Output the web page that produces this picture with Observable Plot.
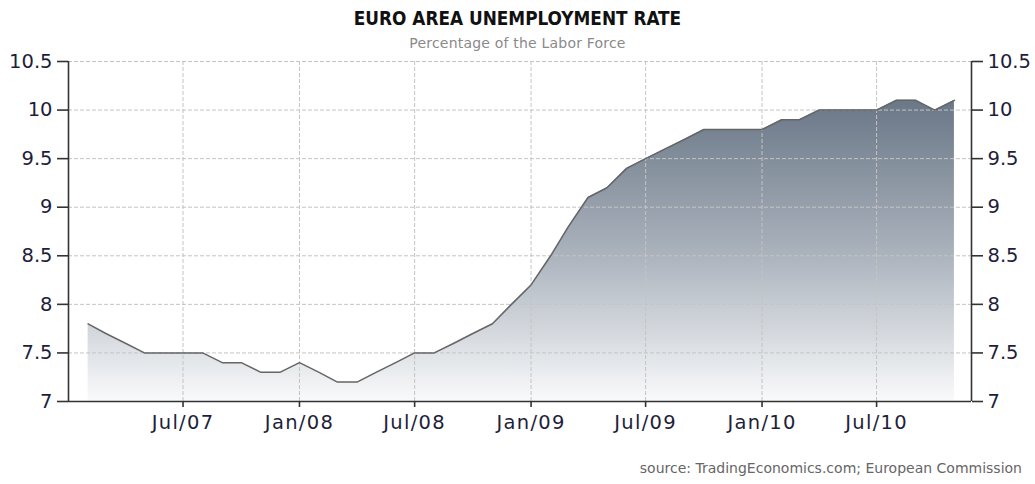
<!DOCTYPE html>
<html><head><meta charset="utf-8">
<script src="https://cdn.jsdelivr.net/npm/d3@7"></script>
<script src="https://cdn.jsdelivr.net/npm/@observablehq/plot@0.6"></script>
<style>
body{margin:0;background:#fff;}
#wrap{position:relative;width:1035px;height:484px;font-family:"DejaVu Sans",sans-serif;}
.t{position:absolute;white-space:nowrap}
#title{left:0;width:1035px;text-align:center;top:9px;font-size:18.8px;line-height:20px;font-weight:bold;color:#111;font-family:"DejaVu Sans Condensed","DejaVu Sans",sans-serif;font-stretch:condensed;}
#subtitle{left:0;width:1035px;text-align:center;top:36px;font-size:14px;line-height:14px;color:#8a8a8a;letter-spacing:0.2px;}
#source{right:13px;top:461px;font-size:14px;line-height:14px;color:#666;}
#wrap svg{position:absolute;left:0;top:0;}
</style></head><body><div id="wrap"></div>
<script>
const titleText = "EURO AREA UNEMPLOYMENT RATE";
const subtitleText = "Percentage of the Labor Force";
const sourceText = "source: TradingEconomics.com; European Commission";

const months = [
  "2007-02","2007-03","2007-04","2007-05","2007-06","2007-07","2007-08","2007-09","2007-10","2007-11","2007-12",
  "2008-01","2008-02","2008-03","2008-04","2008-05","2008-06","2008-07","2008-08","2008-09","2008-10","2008-11","2008-12",
  "2009-01","2009-02","2009-03","2009-04","2009-05","2009-06","2009-07","2009-08","2009-09","2009-10","2009-11","2009-12",
  "2010-01","2010-02","2010-03","2010-04","2010-05","2010-06","2010-07","2010-08","2010-09","2010-10","2010-11"
];
const rates = [
  7.8,7.7,7.6,7.5,7.5,7.5,7.5,7.4,7.4,7.3,7.3,
  7.4,7.3,7.2,7.2,7.3,7.4,7.5,7.5,7.6,7.7,7.8,8.0,
  8.2,8.5,8.8,9.1,9.2,9.4,9.5,9.6,9.7,9.8,9.8,9.8,
  9.8,9.9,9.9,10.0,10.0,10.0,10.0,10.1,10.1,10.0,10.1
];
const xDomain = ["2007-01-01","2010-11-28"];
const xTickDates = ["2007-07-01","2008-01-01","2008-07-01","2009-01-01","2009-07-01","2010-01-01","2010-07-01"];
const xTickLabels = ["Jul/07","Jan/08","Jul/08","Jan/09","Jul/09","Jan/10","Jul/10"];
const yDomain = [7, 10.5];
const yTicks = [7, 7.5, 8, 8.5, 9, 9.5, 10, 10.5];

const data = months.map((m, i) => ({date: new Date(m + "-01"), rate: rates[i]}));
const xd = xDomain.map(s => new Date(s));
const xt = xTickDates.map(s => new Date(s));
const labelOf = new Map(xt.map((d, i) => [+d, xTickLabels[i]]));

const grid = {stroke: "#c4c4c4", strokeOpacity: 1, strokeDasharray: "4,2", strokeWidth: 1};

const chart = Plot.plot({
  width: 1035, height: 484,
  marginTop: 61, marginBottom: 83, marginLeft: 68, marginRight: 64,
  style: {fontFamily: '"DejaVu Sans",sans-serif', fontSize: "19.5px", color: "#1e1e3a", background: "transparent"},
  x: {type: "utc", domain: xd},
  y: {domain: yDomain},
  marks: [
    Plot.areaY(data, {x: "date", y1: yDomain[0], y2: "rate", fill: "url(#areaGrad)"}),
    Plot.gridY(yTicks, grid),
    Plot.gridX(xt, grid),
    Plot.lineY(data, {x: "date", y: "rate", stroke: "#666", strokeWidth: 1.5}),
    Plot.ruleX(xd, {stroke: "#333", strokeWidth: 1.6}),
    Plot.ruleY([yDomain[0]], {stroke: "#333", strokeWidth: 1.6}),
    Plot.axisY(yTicks, {anchor: "left", tickSize: 11, tickPadding: 5, tickFormat: d => String(d), label: null, stroke: "#333", strokeWidth: 1.6}),
    Plot.axisY(yTicks, {anchor: "right", tickSize: 11, tickPadding: 5, tickFormat: d => String(d), label: null, stroke: "#333", strokeWidth: 1.6}),
    Plot.axisX(xt, {anchor: "bottom", tickSize: 6, tickPadding: 8, tickFormat: d => labelOf.get(+d), label: null, stroke: "#333", strokeWidth: 1.6})
  ]
});

d3.select(chart).insert("defs", ":first-child").html(
  '<linearGradient id="areaGrad" x1="0" y1="0" x2="0" y2="1">' +
  '<stop offset="0" stop-color="#6a7787"/><stop offset="0.5" stop-color="#a9b1bb"/><stop offset="1" stop-color="#f9fafb"/></linearGradient>'
);
d3.select(chart).selectAll('g[aria-label="x-axis tick label"] text').attr("letter-spacing", "1.3px");

const wrap = document.getElementById("wrap");
wrap.appendChild(chart);
for (const [id, txt] of [["title", titleText], ["subtitle", subtitleText], ["source", sourceText]]) {
  const d = document.createElement("div");
  d.className = "t"; d.id = id; d.textContent = txt;
  wrap.appendChild(d);
}
</script>
</body></html>
